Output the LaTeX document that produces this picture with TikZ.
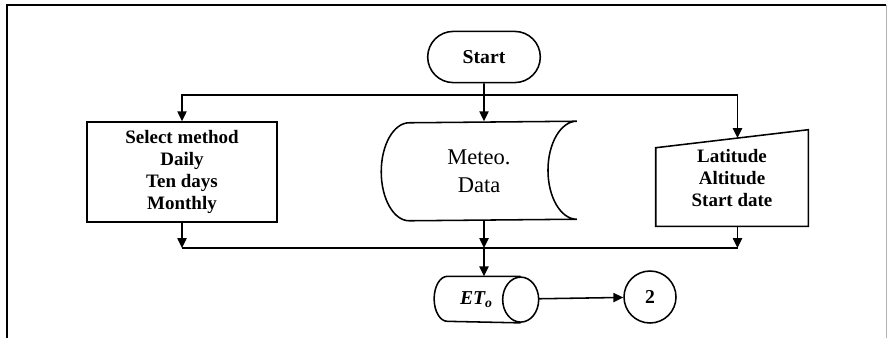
\documentclass[tikz,border=0pt]{standalone}
\usepackage{fontspec}
\setmainfont{Liberation Serif}
\usetikzlibrary{arrows.meta, positioning, shapes.geometric, shapes.misc, calc}

\begin{document}
\begin{tikzpicture}[
      line width=1.1pt,
      term/.style={rounded rectangle, draw, minimum width=3.05cm, minimum height=1.28cm, font=\fontsize{14}{16}\selectfont\bfseries},
      proc/.style={rectangle, draw, minimum width=4.75cm, minimum height=2.5cm, align=center, font=\fontsize{13.5}{15.5}\selectfont\bfseries},
      blank/.style={rectangle, draw=none, inner sep=0pt, align=center},
      conn/.style={circle, draw, minimum size=1.3cm, inner sep=0pt, font=\fontsize{14}{16}\selectfont\bfseries},
      arr/.style={-{Triangle[length=7pt, width=6.5pt]}}
    ]
      \useasboundingbox (0,0) rectangle (22.2,8.45);
      % frame
      \draw[line width=0.9pt] (0.175,0) -- (0.175,8.325) -- (22.15,8.325);
      \draw[line width=0.6pt, gray!60] (22.15,8.325) -- (22.15,0);

      \node[term] (start) at (12.1,7.025) {Start};

      \node[proc] (method) at (4.55,4.15) {Select method\\Daily\\Ten days\\Monthly};

      \node[blank, minimum width=4.85cm, minimum height=2.45cm,
            font=\fontsize{16}{20}\selectfont] (meteo) at (11.975,4.175) {Meteo.\\Data};
      \draw (meteo.north east) arc[start angle=90, end angle=270, x radius=0.72, y radius=1.225]
        -- ($(meteo.south west)+(0.7,0)$)
        arc[start angle=-90, end angle=-270, x radius=0.7, y radius=1.225] -- cycle;

      \node[blank, minimum width=3.775cm, minimum height=2.375cm,
            font=\fontsize{13.5}{15.5}\selectfont\bfseries] (lat) at (18.3,4.0) {Latitude\\Altitude\\Start date};
      \coordinate (latNW) at ($(lat.north west)+(0,-0.45)$);
      \draw (latNW) -- (lat.north east) -- (lat.south east) -- (lat.south west) -- cycle;
      \coordinate (latIn) at ($(latNW)!0.536!(lat.north east)$);

      \node[blank, minimum width=2.575cm, minimum height=1.125cm,
            font=\fontsize{14}{16}\selectfont\bfseries\itshape] (eto) at (12.16,0.96) {ET\textsubscript{o}\hspace{0.5cm}};
      \draw ($(eto.north east)+(-0.45,0)$) -- ($(eto.north west)+(0.33,0)$)
        arc[start angle=90, end angle=270, x radius=0.33, y radius=0.5625]
        -- ($(eto.south east)+(-0.45,0)$);
      \draw ($(eto.east)+(-0.45,0)$) ellipse[x radius=0.45, y radius=0.5625];
      \node[conn] (c2) at (16.25,1.025) {2};

      % upper branches
      \coordinate (top) at (12.1,6.075);
      \draw[arr] (start) -- (start |- meteo.north);
      \draw[arr] (top) -| (method);
      \draw[arr] (top) -| (latIn);

      % lower branches
      \coordinate (bot) at (12.1,2.25);
      \draw[arr] (method) -- (method |- bot);
      \draw[arr] (meteo.south -| bot) -- (bot);
      \draw[arr] (lat.south -| latIn) -- (latIn |- bot);
      \draw (method |- bot) -- (latIn |- bot);
      \draw[arr] (bot) -- (eto.north -| bot);

      \draw[arr] (eto) -- (c2);
    \end{tikzpicture}
\end{document}
